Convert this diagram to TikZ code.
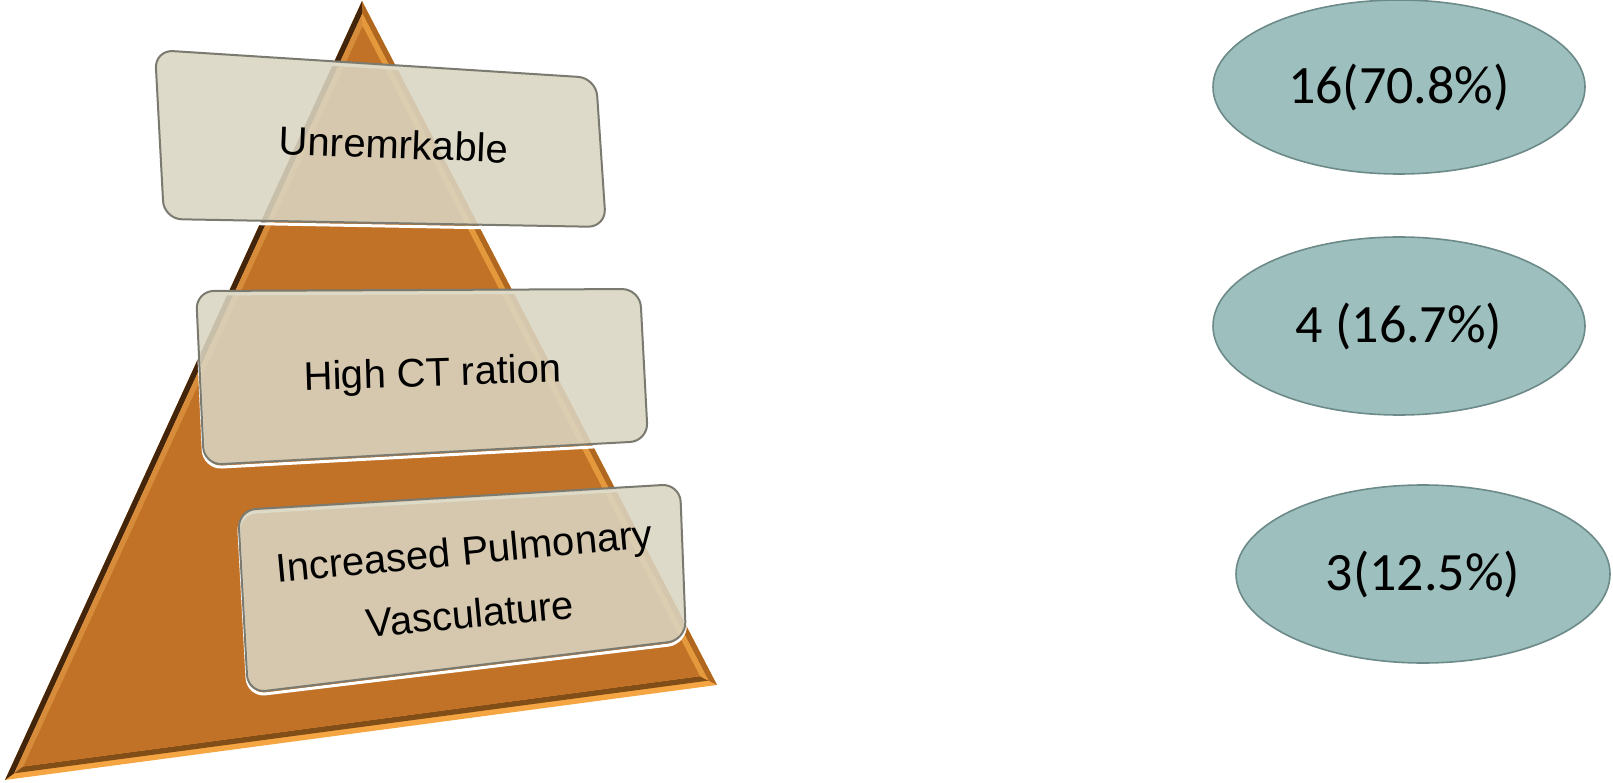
\documentclass[tikz,border=0pt]{standalone}
\usepackage{fontspec}
\setmainfont{Liberation Sans}
\newfontfamily\ellfont{Carlito}
\usetikzlibrary{shapes.geometric}
\definecolor{tric}{RGB}{193,114,38}
\definecolor{bevbright}{RGB}{245,166,66}
\definecolor{bevdk}{RGB}{66,37,10}
\definecolor{bevrt}{RGB}{176,104,32}
\definecolor{bevlft}{RGB}{214,140,58}
\definecolor{bevshad}{RGB}{130,78,24}
\definecolor{bevrtin}{RGB}{228,154,60}
\definecolor{boxc}{RGB}{218,213,193}
\definecolor{boxedge}{RGB}{122,122,112}
\definecolor{ellc}{RGB}{157,191,190}
\definecolor{elledge}{RGB}{108,138,136}
\tikzset{
  boxfill/.style={fill=boxc, fill opacity=0.88, rounded corners=18pt},
  boxline/.style={draw=boxedge, line width=2pt, rounded corners=18pt},
  boxhi/.style={draw=white, line width=3pt, rounded corners=18pt, yshift=-3pt},
  boxtext/.style={font=\fontsize{40}{46}\selectfont, align=center, inner sep=0pt},
  ell/.style={ellipse, draw=elledge, line width=1.6pt, fill=ellc, inner sep=0pt,
    font=\ellfont\fontsize{54}{62}\selectfont}
}
\begin{document}
\begin{tikzpicture}[x=1pt,y=-1pt]
\useasboundingbox (0,0) rectangle (1613,783);
% pyramid: outer, middle and inner outlines of the bevel
\coordinate (A) at (362,1);
\coordinate (B) at (5,780);
\coordinate (C) at (717,685);
\coordinate (Am) at (362.3,13.5);
\coordinate (Bm) at (14.2,773.3);
\coordinate (Cm) at (708.5,680.6);
\coordinate (Ai) at (362.6,26);
\coordinate (Bi) at (23.3,766.5);
\coordinate (Ci) at (700,676.2);
\fill[bevbright] (A) -- (B) -- (C) -- cycle;
\fill[bevdk] (A) -- (B) -- (Bm) -- (Am) -- cycle;
\fill[bevrt] (C) -- (A) -- (Am) -- (Cm) -- cycle;
\fill[bevlft] (Am) -- (Bm) -- (Bi) -- (Ai) -- cycle;
\fill[bevshad] (Bm) -- (Cm) -- (Ci) -- (Bi) -- cycle;
\fill[bevrtin] (Cm) -- (Am) -- (Ai) -- (Ci) -- cycle;
\fill[tric] (Ai) -- (Bi) -- (Ci) -- cycle;
% box 1
\path[boxhi] (155,50) -- (596,78) -- (606,227) -- (164,219) -- cycle;
\path[boxfill] (155,50) -- (596,78) -- (606,227) -- (164,219) -- cycle;
\path[boxline] (155,50) -- (596,78) -- (606,227) -- (164,219) -- cycle;
% box 2
\path[boxhi] (196,291) -- (640,289) -- (648,441) -- (204,465) -- cycle;
\path[boxfill] (196,291) -- (640,289) -- (648,441) -- (204,465) -- cycle;
\path[boxline] (196,291) -- (640,289) -- (648,441) -- (204,465) -- cycle;
% box 3
\path[boxhi] (238,510) -- (680,484) -- (686,640) -- (248,693) -- cycle;
\path[boxfill] (238,510) -- (680,484) -- (686,640) -- (248,693) -- cycle;
\path[boxline] (238,510) -- (680,484) -- (686,640) -- (248,693) -- cycle;
% texts
\node[boxtext, anchor=base, rotate=-2.2] (t1) at (393,158.5) {Unremrkable};
\node[boxtext, anchor=base, rotate=1.8] (t2) at (433,386) {High CT ration};
\node[boxtext, rotate=5.3] (t3) at (467,582) {Increased Pulmonary\\[17pt]Vasculature};
% ellipses
\node[ell, minimum width=372pt, minimum height=174pt] (e1) at (1399,87) {16(70.8\%)};
\node[ell, minimum width=372pt, minimum height=178pt] (e2) at (1399,326) {4 (16.7\%)};
\node[ell, minimum width=374pt, minimum height=178pt] (e3) at (1423,574) {3(12.5\%)};
\end{tikzpicture}
\end{document}
